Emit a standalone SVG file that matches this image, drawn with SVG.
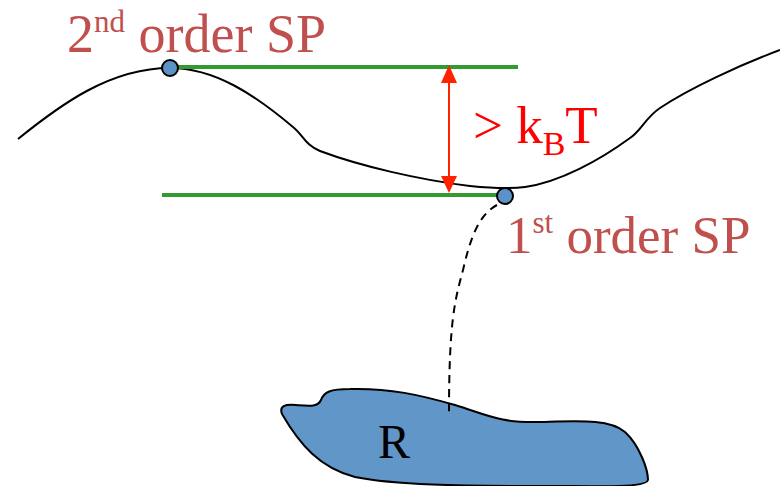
<svg xmlns="http://www.w3.org/2000/svg" width="780" height="486" viewBox="0 0 780 486">
<style>
.lbl{fill:#c0504d}
.red{fill:#ff0000}
.sp{fill:#5b93c8;stroke:#000;stroke-width:2}
.lvl{stroke:#339933;stroke-width:4;fill:none}
.ah{fill:#ff2200}
</style>
<g id="reactant">
<path d="M282,414 C279,406 285,404 296,405 C310,406 318,407 321,400 C324,392 330,389 350,389 C390,388 420,395 455,405 C490,416 500,423 540,422 C580,421 610,419 625,432 C640,446 648,470 648,480 C647,488 600,486 540,486 C460,486 395,485 355,477 C320,468 300,445 282,414 Z" fill="#6196c8" stroke="#000" stroke-width="2"/>
<text x="378" y="458" font-family="Liberation Serif, Times New Roman, serif" font-size="48" fill="#000">R</text>
</g>
<g id="connectors">
<path d="M18,139 C60,105 110,68 170,68 C215,68 255,95 293,127 C303,135 305,145 320,151 C360,166 420,180 470,186 C490,188 510,189 525,187 C560,182 600,160 630,138 C642,130 645,118 660,108 C690,88 740,65 780,50" fill="none" stroke="#000" stroke-width="2"/>
<line class="lvl" x1="170" y1="67" x2="518" y2="67"/>
<line class="lvl" x1="162" y1="195" x2="505" y2="195"/>
<line x1="449" y1="80" x2="449" y2="180" stroke="#ff2200" stroke-width="2"/>
<polygon class="ah" points="449,65 457,83 441,83"/>
<polygon class="ah" points="449,193 457,176 441,176"/>
<path d="M497,205 C478,215 470,240 463,270 C455,300 449,320 449,413" fill="none" stroke="#000" stroke-width="2" stroke-dasharray="8,6"/>
</g>
<g id="sp2">
<circle class="sp" cx="170" cy="68" r="8"/>
<text class="lbl" x="67" y="52" font-family="Liberation Serif, Times New Roman, serif" font-size="54">2<tspan font-size="31" dy="-20">nd</tspan><tspan dy="20"> order SP</tspan></text>
</g>
<g id="sp1">
<circle class="sp" cx="505" cy="196" r="8"/>
<text class="lbl" x="506" y="253" font-family="Liberation Serif, Times New Roman, serif" font-size="53">1<tspan font-size="31" dy="-20">st</tspan><tspan dy="20"> order SP</tspan></text>
</g>
<g id="barrier">
<text class="red" x="473" y="143" font-family="Liberation Serif, Times New Roman, serif" font-size="53">&gt; k<tspan font-size="34" dy="12">B</tspan><tspan dy="-12">T</tspan></text>
</g>
</svg>
